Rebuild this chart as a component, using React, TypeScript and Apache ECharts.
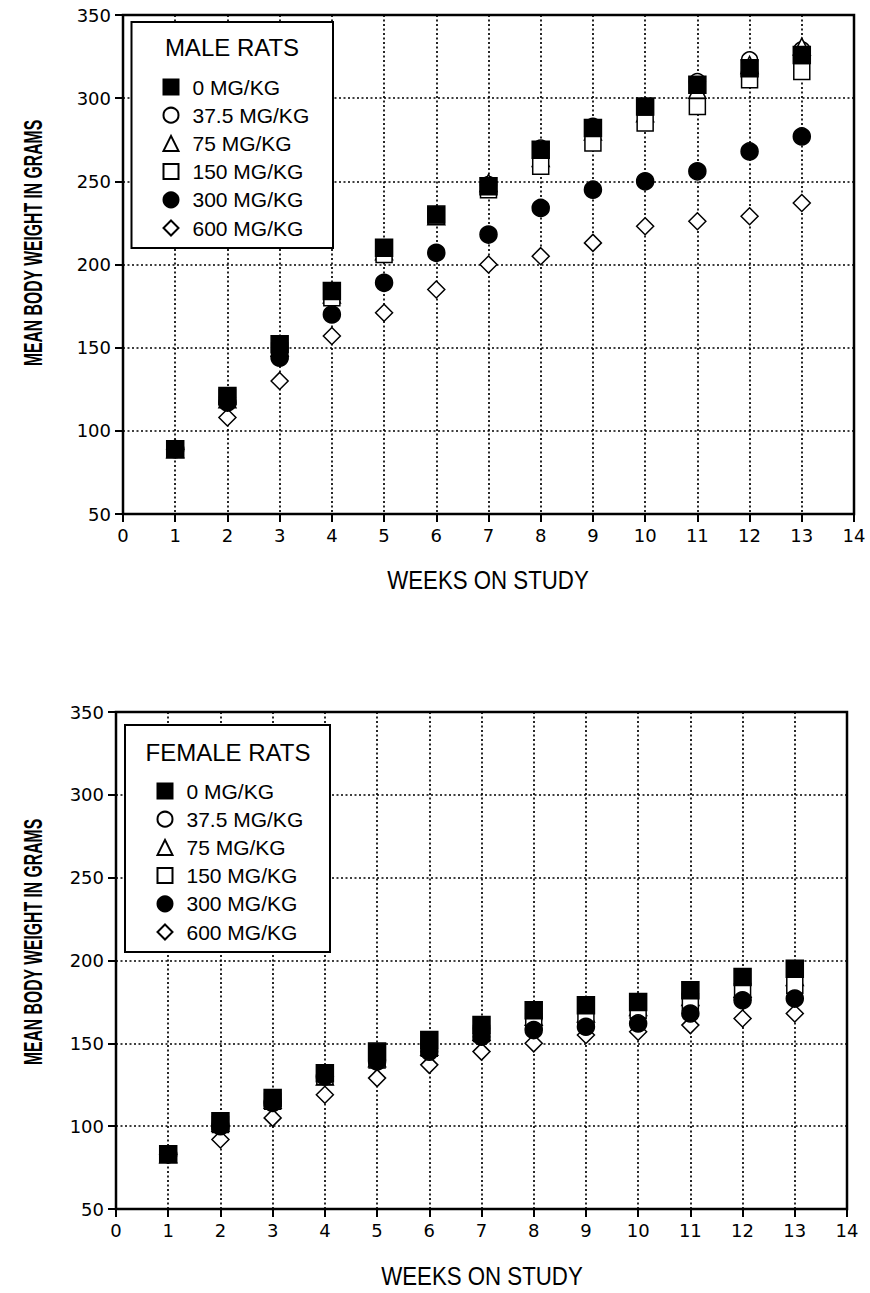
import React, { useEffect, useRef } from "react";
import * as echarts from "echarts";

// ---------- data ----------
const weeks = [1, 2, 3, 4, 5, 6, 7, 8, 9, 10, 11, 12, 13];
const doseNames = ["0 MG/KG", "37.5 MG/KG", "75 MG/KG", "150 MG/KG", "300 MG/KG", "600 MG/KG"];

const male0 = [89, 121, 152, 184, 210, 230, 247, 269, 282, 295, 308, 318, 326];
const male37 = [89, 120, 150, 183, 209, 230, 248, 270, 283, 294, 310, 323, 329];
const male75 = [89, 119, 150, 182, 208, 229, 249, 264, 280, 291, 305, 320, 331];
const male150 = [89, 120, 148, 180, 206, 229, 245, 259, 273, 285, 295, 311, 316];
const male300 = [89, 117, 144, 170, 189, 207, 218, 234, 245, 250, 256, 268, 277];
const male600 = [89, 108, 130, 157, 171, 185, 200, 205, 213, 223, 226, 229, 237];

const female0 = [83, 103, 117, 132, 145, 152, 161, 170, 173, 175, 182, 190, 195];
const female37 = [83, 102, 116, 131, 143, 150, 159, 165, 171, 172, 180, 186, 192];
const female75 = [83, 102, 116, 130, 141, 148, 157, 166, 168, 172, 178, 183, 190];
const female150 = [83, 101, 115, 130, 140, 147, 156, 163, 166, 170, 175, 181, 185];
const female300 = [83, 100, 114, 130, 139, 145, 154, 158, 160, 162, 168, 176, 177];
const female600 = [83, 92, 105, 119, 129, 137, 145, 150, 155, 157, 161, 165, 168];

const xMin = 0, xMax = 14, xStep = 1;
const yMin = 50, yMax = 350, yStep = 50;

const maleSets = [male0, male37, male75, male150, male300, male600];
const femaleSets = [female0, female37, female75, female150, female300, female600];

// marker styles per dose
const markerStyles = [
  { symbol: "rect", size: 17, fill: "#000", z: 4 },
  { symbol: "circle", size: 16, fill: "#fff", z: 2 },
  { symbol: "triangle", size: 17, fill: "#fff", z: 2 },
  { symbol: "rect", size: 16, fill: "#fff", z: 2 },
  { symbol: "circle", size: 17, fill: "#000", z: 3 },
  { symbol: "diamond", size: 17, fill: "#fff", z: 2 },
];

const FONT = '"Liberation Sans", Arial, sans-serif';
const TICKFONT = '"DejaVu Sans", sans-serif';
const GRIDLINE = { color: "#000", type: [2, 2.5], width: 1.7 };

function makeSeries(sets: number[][], gridIndex: number) {
  return sets.map((vals, k) => {
    const m = markerStyles[k];
    return {
      type: "scatter",
      name: doseNames[k],
      xAxisIndex: gridIndex,
      yAxisIndex: gridIndex,
      symbol: m.symbol,
      symbolSize: m.size,
      z: m.z,
      itemStyle: { color: m.fill, borderColor: "#000", borderWidth: 1.5, opacity: 1 },
      emphasis: { disabled: true },
      data: weeks.map((w, i) => [w, vals[i]]),
    };
  });
}

function makeXAxis(gridIndex: number) {
  return {
    type: "value",
    gridIndex,
    min: xMin,
    max: xMax,
    interval: xStep,
    axisLine: { show: true, onZero: false, lineStyle: { color: "#000", width: 2 } },
    axisTick: { show: true, inside: false, length: 8, lineStyle: { color: "#000", width: 2 } },
    axisLabel: { color: "#000", fontFamily: TICKFONT, fontSize: 18, margin: 12 },
    splitLine: { show: true, lineStyle: GRIDLINE },
  };
}

function makeYAxis(gridIndex: number) {
  return {
    type: "value",
    gridIndex,
    min: yMin,
    max: yMax,
    interval: yStep,
    axisLine: { show: true, onZero: false, lineStyle: { color: "#000", width: 2 } },
    axisTick: { show: true, inside: false, length: 8, lineStyle: { color: "#000", width: 2 } },
    axisLabel: { color: "#000", fontFamily: TICKFONT, fontSize: 18, margin: 12 },
    splitLine: { show: true, lineStyle: GRIDLINE },
  };
}

function makeLegend(left: number, top: number) {
  return {
    orient: "vertical",
    left,
    top,
    padding: 0,
    itemWidth: 15,
    itemHeight: 15,
    itemGap: 7.2,
    selectedMode: false,
    data: doseNames,
    textStyle: {
      color: "#000",
      fontFamily: FONT,
      fontSize: 21,
      lineHeight: 21,
      padding: [0, 0, 0, 9],
    },
  };
}

function textEl(text: string, x: number, y: number, size: number, opts: any = {}) {
  return {
    type: "text",
    x,
    y,
    z: 10,
    rotation: opts.rotation || 0,
    scaleX: opts.scaleX || 1,
    scaleY: opts.scaleY || 1,
    style: {
      text,
      fill: "#000",
      font: `${opts.weight || "normal"} ${size}px ${FONT}`,
      textAlign: "center",
      textVerticalAlign: "middle",
    },
  };
}

export default function App() {
  const ref = useRef<HTMLDivElement>(null);

  useEffect(() => {
    document.body.style.margin = "0";
    if (!ref.current) return;
    const chart = echarts.init(ref.current, undefined, { renderer: "svg" });
    const option: any = {
      animation: false,
      backgroundColor: "#fff",
      grid: [
        { left: 123, top: 15, width: 731, height: 499, show: true, borderColor: "#000", borderWidth: 2.5 },
        { left: 116, top: 712, width: 731, height: 497, show: true, borderColor: "#000", borderWidth: 2.5 },
      ],
      xAxis: [makeXAxis(0), makeXAxis(1)],
      yAxis: [makeYAxis(0), makeYAxis(1)],
      legend: [makeLegend(162.5, 76.5), makeLegend(156.5, 780.5)],
      graphic: {
        elements: [
          {
            type: "rect",
            z: 3,
            shape: { x: 131.5, y: 22, width: 201.5, height: 226 },
            style: { fill: "#fff", stroke: "#000", lineWidth: 2 },
          },
          {
            type: "rect",
            z: 3,
            shape: { x: 125, y: 725, width: 205, height: 227 },
            style: { fill: "#fff", stroke: "#000", lineWidth: 2 },
          },
          textEl("MALE RATS", 232, 47, 24),
          textEl("FEMALE RATS", 228, 752, 24),
          textEl("MEAN BODY WEIGHT IN GRAMS", 33, 243, 25, { rotation: Math.PI / 2, scaleX: 0.63, weight: "bold" }),
          textEl("MEAN BODY WEIGHT IN GRAMS", 33, 942, 25, { rotation: Math.PI / 2, scaleX: 0.63, weight: "bold" }),
          textEl("WEEKS ON STUDY", 488, 581, 25, { scaleX: 0.89 }),
          textEl("WEEKS ON STUDY", 482, 1277, 25, { scaleX: 0.89 }),
        ],
      },
      series: [...makeSeries(maleSets, 0), ...makeSeries(femaleSets, 1)],
    };
    chart.setOption(option);
    return () => chart.dispose();
  }, []);

  return <div ref={ref} style={{ width: 870, height: 1293 }} />;
}
